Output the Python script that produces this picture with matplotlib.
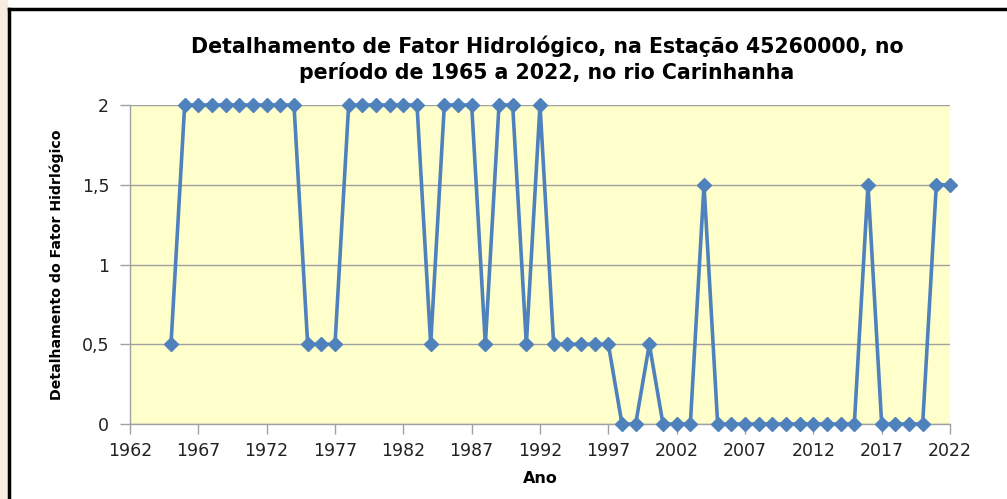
import matplotlib.pyplot as plt
from matplotlib.lines import Line2D
from matplotlib.patches import Rectangle
from matplotlib.ticker import FuncFormatter

# Detalhamento do fator hidrologico, estacao 45260000 (1965-2022)
anos = list(range(1965, 2023))
fator = [
    0.5,                                      # 1965
    2, 2, 2, 2, 2, 2, 2, 2, 2,                # 1966-1974
    0.5, 0.5, 0.5,                            # 1975-1977
    2, 2, 2, 2, 2, 2,                         # 1978-1983
    0.5,                                      # 1984
    2, 2, 2,                                  # 1985-1987
    0.5,                                      # 1988
    2, 2,                                     # 1989-1990
    0.5,                                      # 1991
    2,                                        # 1992
    0.5, 0.5, 0.5, 0.5, 0.5,                  # 1993-1997
    0, 0,                                     # 1998-1999
    0.5,                                      # 2000
    0, 0, 0,                                  # 2001-2003
    1.5,                                      # 2004
    0, 0, 0, 0, 0, 0, 0, 0, 0, 0, 0,          # 2005-2015
    1.5,                                      # 2016
    0, 0, 0, 0,                               # 2017-2020
    1.5, 1.5,                                 # 2021-2022
]
xticks = list(range(1962, 2023, 5))
yticks = [0, 0.5, 1, 1.5, 2]

titulo = "Detalhamento de Fator Hidrológico, na Estação 45260000, no\nperíodo de 1965 a 2022, no rio Carinhanha"
ylabel = "Detalhamento do Fator Hidrlógico"
xlabel = "Ano"

fig = plt.figure(figsize=(10.07, 4.99), dpi=100)
fig.patch.set_facecolor("white")

# faixa bege a esquerda e moldura preta
fig.patches.append(Rectangle((0, 0), 8 / 1007, 1, transform=fig.transFigure,
                             facecolor="#f6ecdf", edgecolor="none"))
fig.lines.append(Line2D([9 / 1007, 9 / 1007], [0, 1 - 9 / 499],
                        transform=fig.transFigure, color="black", lw=2.5))
fig.lines.append(Line2D([9 / 1007, 1], [1 - 9 / 499, 1 - 9 / 499],
                        transform=fig.transFigure, color="black", lw=2.5))

ax = fig.add_axes([130 / 1007, 1 - 424 / 499, 820 / 1007, 319 / 499])
ax.set_facecolor("#ffffcc")

ax.plot(anos, fator, color="#4f81bd", lw=2.6, marker="D", markersize=7,
        markeredgecolor="#4f81bd", clip_on=False, zorder=5)

ax.set_xlim(1962, 2022)
ax.set_ylim(0, 2)
ax.set_xticks(xticks)
ax.set_yticks(yticks)
ax.yaxis.set_major_formatter(FuncFormatter(lambda v, p: f"{v:g}".replace(".", ",")))
ax.grid(True, axis="y", color="#a0a0a0", lw=1)
ax.set_axisbelow(True)

for s in ("top", "right"):
    ax.spines[s].set_visible(False)
for s in ("left", "bottom"):
    ax.spines[s].set_color("#a0a0a0")
    ax.spines[s].set_linewidth(1)
ax.tick_params(axis="both", colors="#a0a0a0", length=7, width=1,
               labelcolor="#222222", labelsize=12.5)
ax.tick_params(axis="x", pad=6)
ax.tick_params(axis="y", pad=8)

ax.set_ylabel(ylabel, fontsize=10.2, fontweight="bold", labelpad=13)
ax.set_xlabel(xlabel, fontsize=11.5, fontweight="bold", labelpad=8)

fig.text(547 / 1007, 1 - 59 / 499, titulo, ha="center", va="center",
         fontsize=14.8, fontweight="bold", linespacing=1.3)

fig.savefig("out.png", dpi=100)
